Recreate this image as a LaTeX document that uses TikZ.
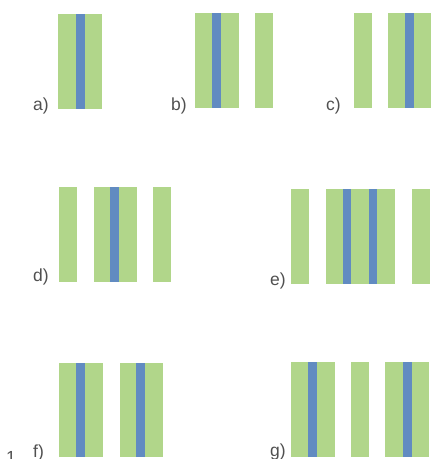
\documentclass[tikz,border=0pt]{standalone}
\usepackage{fontspec}
\setmainfont{Liberation Sans}
\usepackage{xcolor}
\definecolor{barGreen}{RGB}{177,214,138}
\definecolor{barBlue}{RGB}{97,139,193}
\definecolor{labelGray}{RGB}{80,80,80}

\tikzset{
  greenbar/.style={fill=barGreen},
  bluebar/.style={fill=barBlue},
  panellabel/.style={anchor=base west, inner sep=0pt, text=labelGray, font=\fontsize{17.5}{20}\selectfont}
}

\begin{document}
\begin{tikzpicture}[x=1pt, y=-1pt]
        \useasboundingbox (0,0) rectangle (431,459);

        % a)
        \fill[greenbar] (58,14) rectangle (102,108.7);
        \fill[bluebar] (76,14) rectangle (85,108.7);
        \node (lbla) [panellabel] at (33,110.5) {a)};

        % b)
        \fill[greenbar] (195,13) rectangle (239,107.7);
        \fill[bluebar] (212,13) rectangle (221,107.7);
        \fill[greenbar] (255,13) rectangle (273,107.7);
        \node (lblb) [panellabel] at (171,110.5) {b)};

        % c)
        \fill[greenbar] (354,13) rectangle (372,107.7);
        \fill[greenbar] (388,13) rectangle (431,107.7);
        \fill[bluebar] (405,13) rectangle (414,107.7);
        \node (lblc) [panellabel] at (326,110.5) {c)};

        % d)
        \fill[greenbar] (59,187) rectangle (77,281.7);
        \fill[greenbar] (94,187) rectangle (137,281.7);
        \fill[bluebar] (110,187) rectangle (119,281.7);
        \fill[greenbar] (153,187) rectangle (171,281.7);
        \node (lbld) [panellabel] at (33,281) {d)};

        % e)
        \fill[greenbar] (291,189) rectangle (309,283.7);
        \fill[greenbar] (326,189) rectangle (395,283.7);
        \fill[bluebar] (343,189) rectangle (351.3,283.7);
        \fill[bluebar] (369,189) rectangle (377.3,283.7);
        \fill[greenbar] (412,189) rectangle (430,283.7);
        \node (lble) [panellabel] at (270,285) {e)};

        % f)
        \fill[greenbar] (59,363) rectangle (103,457.3);
        \fill[bluebar] (76,363) rectangle (85,457.3);
        \fill[greenbar] (120,363) rectangle (163,457.3);
        \fill[bluebar] (136,363) rectangle (145,457.3);
        \node (lblf) [panellabel] at (33,457.5) {f)};
        \node (lblone) [panellabel] at (6,463) {1};

        % g)
        \fill[greenbar] (291,362) rectangle (335,457);
        \fill[bluebar] (308,362) rectangle (317,457);
        \fill[greenbar] (351,362) rectangle (369,457);
        \fill[greenbar] (385,362) rectangle (429,457);
        \fill[bluebar] (403,362) rectangle (412,457);
        \node (lblg) [panellabel] at (270,456) {g)};
    \end{tikzpicture}
\end{document}
